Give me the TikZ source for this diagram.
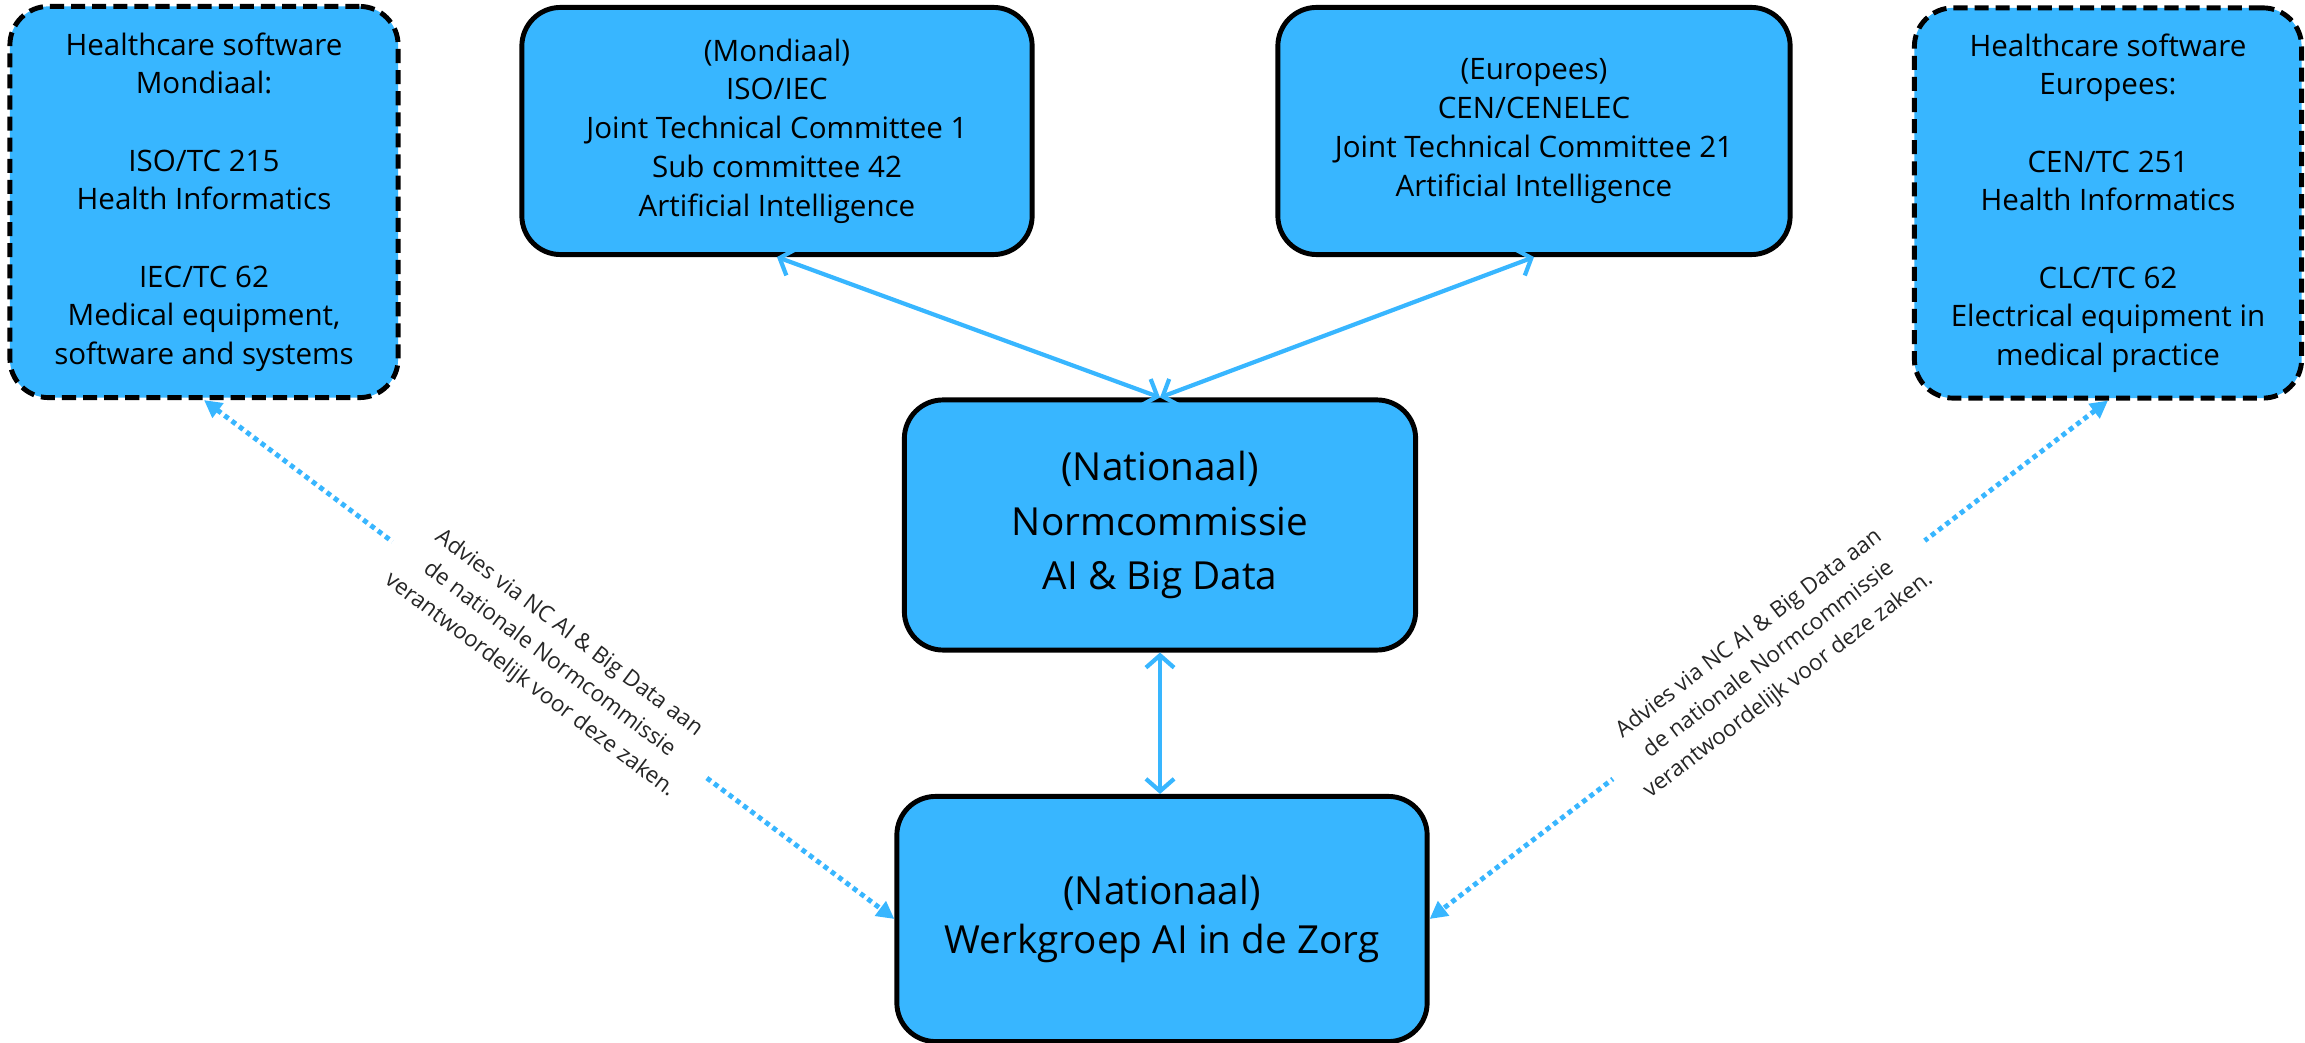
\documentclass[tikz,border=0pt]{standalone}
\usepackage{fontspec}
\setmainfont{Open Sans}
\usetikzlibrary{arrows.meta}
\definecolor{canvablue}{HTML}{38B6FF}

\begin{document}
\begin{tikzpicture}[x=.01cm, y=-.01cm,
    box/.style={draw, line width=1.4pt, fill=canvablue, rounded corners=11pt, align=center, inner sep=0pt},
    small/.style={font=\fontsize{8.4}{11}\selectfont},
    big/.style={font=\fontsize{11}{15.6}\selectfont},
    advice/.style={fill=white, sloped, align=center, inner sep=5pt, text=black!85, font=\fontsize{6.4}{9.2}\selectfont},
    link/.style={canvablue, line width=1.2pt, {Straight Barb[length=3.5pt, width=8pt]}-{Straight Barb[length=3.5pt, width=8pt]}},
    hint/.style={canvablue, line width=1.4pt, dash pattern=on 1.4pt off 1.2pt, {Triangle[length=5pt, width=5pt]}-{Triangle[length=5pt, width=5pt]}}]
    \useasboundingbox (0, 0) rectangle (2305, 1043);
    \node [box, small, dash pattern=on 4pt off 2pt, minimum width=3.88cm, minimum height=3.91cm] (hcWorld) at (204, 202)
        {Healthcare software\\ Mondiaal:\\[11pt] ISO/TC 215\\ Health Informatics\\[11pt] IEC/TC 62\\ Medical equipment,\\ software and systems};
    \node [box, small, dash pattern=on 4pt off 2pt, minimum width=3.87cm, minimum height=3.90cm] (hcEurope) at (2108, 203)
        {Healthcare software\\ Europees:\\[11pt] CEN/TC 251\\ Health Informatics\\[11pt] CLC/TC 62\\ Electrical equipment in\\ medical practice};
    \node [box, small, minimum width=5.10cm, minimum height=2.47cm] (jtcOne) at (777, 131)
        {(Mondiaal)\\ ISO/IEC\\ Joint Technical Committee 1\\ Sub committee 42\\ Artificial Intelligence};
    \node [box, small, minimum width=5.12cm, minimum height=2.47cm] (jtcTwentyOne) at (1534, 131)
        {(Europees)\\ CEN/CENELEC\\ Joint Technical Committee 21\\ Artificial Intelligence};
    \node [box, big, minimum width=5.11cm, minimum height=2.50cm] (ncAI) at (1160, 525)
        {(Nationaal)\\ Normcommissie\\ AI \& Big Data};
    \node [box, big, font=\fontsize{11}{13.7}\selectfont, minimum width=5.30cm, minimum height=2.45cm] (wgZorg) at (1162, 919)
        {(Nationaal)\\ Werkgroep AI in de Zorg};
    \draw [link] (jtcOne.south) -- (ncAI.north);
    \draw [link] (jtcTwentyOne.south) -- (ncAI.north);
    \draw [link] (ncAI.south) -- (ncAI.south |- wgZorg.north);
    \draw [hint] (hcWorld.south) -- (wgZorg.west) node [advice, midway] (noteWorld)
        {Advies via NC AI \& Big Data aan\\ de nationale Normcommissie\\ verantwoordelijk voor deze zaken.};
    \draw [hint] (hcEurope.south) -- (wgZorg.east) node [advice, midway] (noteEurope)
        {Advies via NC AI \& Big Data aan\\ de nationale Normcommissie\\ verantwoordelijk voor deze zaken.};
\end{tikzpicture}
\end{document}
